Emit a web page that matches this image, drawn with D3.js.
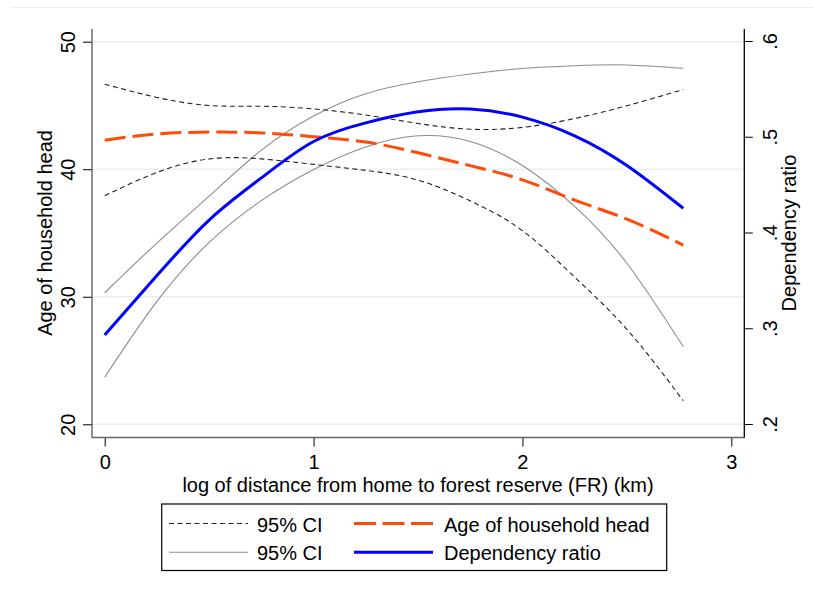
<!DOCTYPE html>
<html>
<head>
<meta charset="utf-8">
<script src="https://cdn.jsdelivr.net/npm/d3@7"></script>
<style>
  body { margin: 0; background: #fff; }
  svg { font-family: "Liberation Sans", Arial, sans-serif; }
</style>
</head>
<body>
<div class="thegraph"></div>
<script>
var xs = [0, 0.25, 0.5, 0.75, 1.0, 1.25, 1.5, 1.75, 2.0, 2.25, 2.5, 2.77];

// left axis: age of household head, with its 95% CI (dashed)
var ageFit   = [42.28, 42.77, 42.91, 42.85, 42.55, 42.13, 41.29, 40.28, 39.17, 37.58, 36.09, 34.05];
var ageUpper = [46.67, 45.63, 45.00, 44.94, 44.73, 44.25, 43.59, 43.14, 43.28, 43.98, 44.98, 46.25];
var ageLower = [37.92, 39.75, 40.81, 40.81, 40.38, 39.91, 39.15, 37.52, 35.18, 31.54, 27.45, 21.85];

// right axis: dependency ratio, with its 95% CI (thin grey)
var depFit   = [0.293, 0.355, 0.413, 0.457, 0.495, 0.5145, 0.526, 0.529, 0.5205, 0.501, 0.470, 0.4253];
var depUpper = [0.337, 0.389, 0.438, 0.486, 0.5217, 0.545, 0.5575, 0.5655, 0.5713, 0.5742, 0.575, 0.5715];
var depLower = [0.2488, 0.328, 0.3896, 0.4333, 0.4658, 0.4894, 0.501, 0.4951, 0.4699, 0.4272, 0.3679, 0.2807];

var xTicks = [0, 1, 2, 3];
var leftTicks = [20, 30, 40, 50];
var rightTicks = [0.2, 0.3, 0.4, 0.5, 0.6];
var rightTickLabels = [".2", ".3", ".4", ".5", ".6"];

var w = 814, h = 593;
var axL = 92, axR = 744.3, axTop = 29, axBottom = 437.5;

var svg = d3.select(".thegraph").append("svg")
  .attr("width", w)
  .attr("height", h);

// faint outer frame line at top
svg.append("line")
  .attr("x1", 11).attr("x2", w).attr("y1", 7.5).attr("y2", 7.5)
  .attr("stroke", "#eef1f4").attr("stroke-width", 1);

var x = d3.scaleLinear().domain([0, 3]).range([104.7, 731.3]);
var yL = d3.scaleLinear().domain([20, 50]).range([424.3, 41.7]);
var yR = d3.scaleLinear().domain([0.2, 0.6]).range([424, 41]);

// grid lines at left ticks
svg.selectAll("line.grid")
  .data(leftTicks)
  .enter()
  .append("line")
  .attr("class", "grid")
  .attr("x1", axL).attr("x2", axR)
  .attr("y1", function(d) { return yL(d); })
  .attr("y2", function(d) { return yL(d); })
  .attr("stroke", "#e9eff1")
  .attr("stroke-width", 1.6);

// axes
var gL = svg.append("g")
  .attr("transform", "translate(" + axL + ",0)")
  .call(d3.axisLeft(yL).tickValues(leftTicks).tickSize(9).tickSizeOuter(0).tickFormat(d3.format("d")));
gL.select(".domain").remove();
gL.selectAll(".tick line").attr("stroke", "#000");
gL.selectAll(".tick text")
  .attr("font-size", "20px")
  .attr("fill", "#000")
  .attr("text-anchor", "middle")
  .attr("transform", "rotate(-90)")
  .attr("x", 0)
  .attr("y", -17)
  .attr("dy", 0);

var gR = svg.append("g")
  .attr("transform", "translate(" + axR + ",0)")
  .call(d3.axisRight(yR).tickValues(rightTicks).tickSize(8.5).tickSizeOuter(0)
    .tickFormat(function(d, i) { return rightTickLabels[i]; }));
gR.select(".domain").remove();
gR.selectAll(".tick line").attr("stroke", "#000");
gR.selectAll(".tick text")
  .attr("font-size", "20px")
  .attr("fill", "#000")
  .attr("text-anchor", "middle")
  .attr("transform", "rotate(-90)")
  .attr("x", 0)
  .attr("y", 32.5)
  .attr("dy", 0);

var gX = svg.append("g")
  .attr("transform", "translate(0," + axBottom + ")")
  .call(d3.axisBottom(x).tickValues(xTicks).tickSize(9).tickSizeOuter(0).tickFormat(d3.format("d")));
gX.select(".domain").remove();
gX.selectAll(".tick line").attr("stroke", "#000");
gX.selectAll(".tick text")
  .attr("font-size", "20px")
  .attr("fill", "#000")
  .attr("y", 31.5)
  .attr("dy", 0);

// axis lines
svg.append("line")
  .attr("x1", axL).attr("x2", axL).attr("y1", axTop).attr("y2", axBottom + 0.5)
  .attr("stroke", "#555").attr("stroke-width", 1.3);
svg.append("line")
  .attr("x1", axR).attr("x2", axR).attr("y1", axTop).attr("y2", axBottom + 0.5)
  .attr("stroke", "#000").attr("stroke-width", 1.3);
svg.append("line")
  .attr("x1", axL).attr("x2", axR).attr("y1", axBottom).attr("y2", axBottom)
  .attr("stroke", "#666").attr("stroke-width", 1.3);

// axis titles
svg.append("text")
  .attr("transform", "translate(51.5," + 233 + ") rotate(-90)")
  .attr("text-anchor", "middle")
  .attr("font-size", "20px")
  .text("Age of household head");
svg.append("text")
  .attr("transform", "translate(796," + 233 + ") rotate(-90)")
  .attr("text-anchor", "middle")
  .attr("font-size", "20px")
  .text("Dependency ratio");
svg.append("text")
  .attr("x", 418).attr("y", 491.5)
  .attr("text-anchor", "middle")
  .attr("font-size", "20px")
  .text("log of distance from home to forest reserve (FR) (km)");

// curves
var lineL = d3.line()
  .x(function(d, i) { return x(xs[i]); })
  .y(function(d) { return yL(d); })
  .curve(d3.curveNatural);
var lineR = d3.line()
  .x(function(d, i) { return x(xs[i]); })
  .y(function(d) { return yR(d); })
  .curve(d3.curveNatural);

var series = [
  { data: depUpper, line: lineR, color: "#8c8c8c", width: 1.1, dash: null },
  { data: depLower, line: lineR, color: "#8c8c8c", width: 1.1, dash: null },
  { data: ageUpper, line: lineL, color: "#222", width: 1.1, dash: "5,3.5" },
  { data: ageLower, line: lineL, color: "#222", width: 1.1, dash: "5,3.5" },
  { data: ageFit, line: lineL, color: "#ff4a0a", width: 3, dash: "21,7" },
  { data: depFit, line: lineR, color: "#0000ff", width: 3, dash: null }
];

svg.selectAll("path.curve")
  .data(series)
  .enter()
  .append("path")
  .attr("class", "curve")
  .attr("d", function(d) { return d.line(d.data); })
  .attr("fill", "none")
  .attr("stroke", function(d) { return d.color; })
  .attr("stroke-width", function(d) { return d.width; })
  .attr("stroke-dasharray", function(d) { return d.dash; });

// legend
svg.append("rect")
  .attr("x", 161.7).attr("y", 504)
  .attr("width", 505).attr("height", 66.5)
  .attr("fill", "#fff")
  .attr("stroke", "#000")
  .attr("stroke-width", 1.2);

var legend = [
  { label: "95% CI", color: "#222", width: 1.1, dash: "5,3.5", lx: 169, tx: 257, y: 523.5 },
  { label: "95% CI", color: "#8c8c8c", width: 1.1, dash: null, lx: 169, tx: 257, y: 552.3 },
  { label: "Age of household head", color: "#ff4a0a", width: 3, dash: "22,6.5", lx: 354, tx: 444, y: 523.5 },
  { label: "Dependency ratio", color: "#0000ff", width: 3, dash: null, lx: 354, tx: 444, y: 552.3 }
];

var items = svg.selectAll("g.leg")
  .data(legend)
  .enter()
  .append("g")
  .attr("class", "leg");
items.append("line")
  .attr("x1", function(d) { return d.lx; })
  .attr("x2", function(d) { return d.lx + 79; })
  .attr("y1", function(d) { return d.y; })
  .attr("y2", function(d) { return d.y; })
  .attr("stroke", function(d) { return d.color; })
  .attr("stroke-width", function(d) { return d.width; })
  .attr("stroke-dasharray", function(d) { return d.dash; });
items.append("text")
  .attr("x", function(d) { return d.tx; })
  .attr("y", function(d) { return d.y + 8; })
  .attr("font-size", "20px")
  .text(function(d) { return d.label; });
</script>
</body>
</html>
